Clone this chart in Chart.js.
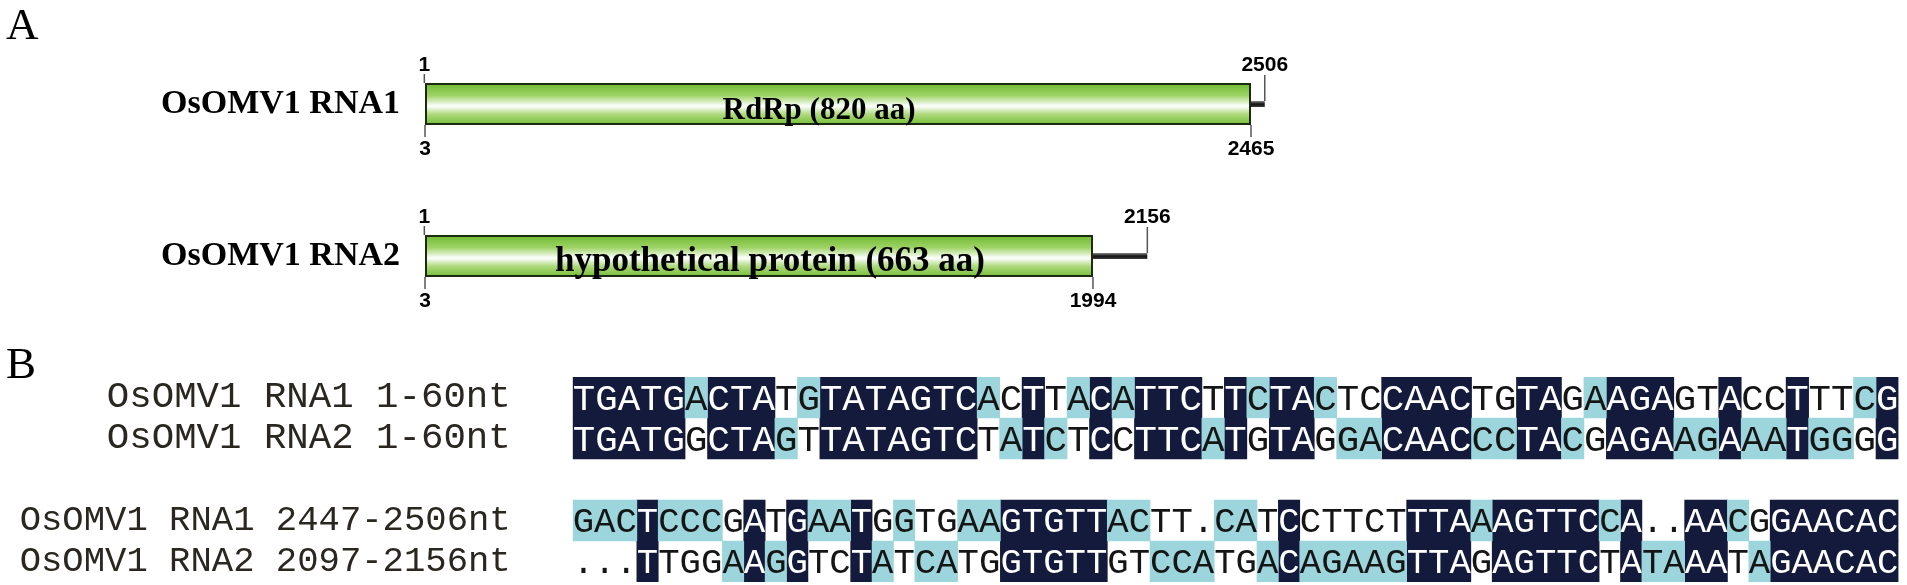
<!DOCTYPE html>
<html>
<head>
<meta charset="utf-8">
<script src="https://cdn.jsdelivr.net/npm/chart.js@4.4.1/dist/chart.umd.min.js"></script>
<style>
  html, body { margin: 0; padding: 0; background: #fff; width: 1907px; height: 585px; overflow: hidden; }
  canvas { position: absolute; left: 0; }
  #genomeChart { top: 0; }
  #alignChart { top: 340px; }
  .panel { position: absolute; left: 6px; font: 45px "Liberation Serif"; line-height: 1; color: #000; }
</style>
</head>
<body>
<canvas id="genomeChart" width="1907" height="345"></canvas>
<canvas id="alignChart" width="1907" height="245"></canvas>
<div class="panel" style="top:2px">A</div>
<div class="panel" style="top:341px">B</div>
<script>
// A: genome organisation
const genomes = ['OsOMV1 RNA1', 'OsOMV1 RNA2'];
const genomeStart = [1, 1];
const orfStart = [3, 3];
const orfEnd = [2465, 1994];
const genomeEnd = [2506, 2156];
const proteins = ['RdRp (820 aa)', 'hypothetical protein (663 aa)'];

// B: terminal sequence alignment
// shade codes: d = identical, c = similar (cyan), w = none
const headNames = ['OsOMV1 RNA1 1-60nt', 'OsOMV1 RNA2 1-60nt'];
const headSeqs = [
  'TGATGACTAT' + 'GTATAGTCAC' + 'TTACATTCTT' + 'CTACTCCAAC' + 'TGTAGAAGAG' + 'TACCTTTCG',
  'TGATGGCTAG' + 'TTATAGTCTA' + 'TCTCCTTCAT' + 'GTAGGACAAC' + 'CCTACGAGAA' + 'GAAATGGGG'
];
const headShades = [
  'dddddcdddw' + 'cdddddddcw' + 'dwcdcdddwd' + 'cddcwwdddd' + 'wwddwcdddw' + 'wdwwdwwcd',
  'dddddwdddc' + 'wdddddddwc' + 'dcwdwdddcd' + 'wddwccdddd' + 'ccddcwdddc' + 'cdccdccwd'
];
const tailNames = ['OsOMV1 RNA1 2447-2506nt', 'OsOMV1 RNA2 2097-2156nt'];
const tailSeqs = [
  'GACTCCCGAT' + 'GAATGGTGAA' + 'GTGTTACTT.' + 'CATCCTTCTT' + 'TAAAGTTCCA' + '..AACGGAACAC',
  '...TTGGAAG' + 'GTCTATCATG' + 'GTGTTGTCCA' + 'TGACAGAAGT' + 'TAGAGTTCTA' + 'TAAATAGAACAC'
];
const tailShades = [
  'cccdcccwdw' + 'dccdwcwwcc' + 'dddddccwww' + 'ccwdwwwwwd' + 'ddcdddddcd' + 'wwddcwdddddd',
  'wwwdwwwcdc' + 'dwwdcwccww' + 'dddddwwccc' + 'wwcdcccccd' + 'ddwdddddwd' + 'ccddwcdddddd'
];

const NAVY = '#131a3b';
const CYAN = '#9dd5dd';

// protein label styling (font size, horizontal nudge from ORF centre)
const proteinStyle = [{ size: 31, shift: -19 }, { size: 35, shift: 11 }];

// y axis: fixed width, and no extra vertical padding for the tall labels
function fixAxis(width) {
  return scale => {
    scale.width = width;
    scale.paddingTop = 0;
    scale.paddingBottom = 0;
  };
}

// ---------- panel A ----------
function bandGradient(c, half, stops, fallback) {
  const chart = c.chart;
  const y = chart.scales.y;
  if (!chart.chartArea || c.dataIndex === undefined || !y) return fallback;
  const cy = y.getPixelForValue(c.dataIndex);
  const g = chart.ctx.createLinearGradient(0, cy - half, 0, cy + half);
  stops.forEach(s => g.addColorStop(s[0], s[1]));
  return g;
}

const markPlugin = {
  id: 'marks',
  afterDatasetsDraw(chart) {
    const { ctx, scales: { x, y } } = chart;
    ctx.save();
    genomes.forEach((g, i) => {
      const cy = y.getPixelForValue(i);
      const top = cy - 21, bot = cy + 21;
      const st = proteinStyle[i];
      ctx.fillStyle = '#000';
      ctx.textAlign = 'center';
      ctx.textBaseline = 'alphabetic';
      ctx.font = 'bold ' + st.size + 'px "Liberation Serif"';
      const mid = (x.getPixelForValue(orfStart[i]) + x.getPixelForValue(orfEnd[i])) / 2;
      ctx.fillText(proteins[i], mid + st.shift, cy + 14.5);

      ctx.font = 'bold 21px "Liberation Sans"';
      ctx.strokeStyle = '#555';
      ctx.lineWidth = 1.5;
      const mark = (v, y0, y1, ty) => {
        const px = x.getPixelForValue(v);
        ctx.beginPath();
        ctx.moveTo(px, y0);
        ctx.lineTo(px, y1);
        ctx.stroke();
        ctx.fillText(String(v), px, ty);
      };
      mark(genomeStart[i], top, top - 9, top - 12);
      mark(genomeEnd[i], cy - 3, top - 8, top - 12);
      mark(orfStart[i], bot, bot + 12, bot + 30);
      mark(orfEnd[i], bot, bot + 12, bot + 30);
    });
    ctx.restore();
  }
};

new Chart(document.getElementById('genomeChart'), {
  type: 'bar',
  data: {
    labels: genomes,
    datasets: [
      {
        label: 'ORF',
        data: orfStart.map((s, i) => [s, orfEnd[i]]),
        grouped: false,
        maxBarThickness: 42,
        borderWidth: 2,
        borderColor: '#1c2a10',
        borderSkipped: false,
        backgroundColor: c => bandGradient(c, 21, [
          [0, '#6cba2e'], [0.3, '#9fd366'], [0.55, '#ffffff'],
          [0.74, '#b0da80'], [1, '#72bd32']
        ], '#8cc63f')
      },
      {
        label: 'UTR',
        data: orfEnd.map((e, i) => [e, genomeEnd[i]]),
        grouped: false,
        maxBarThickness: 6,
        borderWidth: 0,
        backgroundColor: c => bandGradient(c, 3, [
          [0, '#8a8a8a'], [0.5, '#111111'], [1, '#3a3a3a']
        ], '#222')
      }
    ]
  },
  options: {
    indexAxis: 'y',
    responsive: false,
    animation: false,
    layout: { padding: { top: 28, bottom: 13, left: 0, right: 141 } },
    scales: {
      x: { type: 'linear', min: 0, max: 4000, display: false },
      y: {
        type: 'category',
        afterFit: fixAxis(424),
        grid: { display: false, drawTicks: false },
        border: { display: false },
        ticks: {
          autoSkip: false,
          padding: 24,
          color: '#000',
          font: { family: 'Liberation Serif', weight: 'bold', size: 34 }
        }
      }
    },
    plugins: { legend: { display: false }, tooltip: { enabled: false } }
  },
  plugins: [markPlugin]
});

// ---------- panel B ----------
const rowLabels = [...headNames, '', ...tailNames];
const blocks = [
  { names: headNames, seqs: headSeqs, shades: headShades, axis: 'x1' },
  { names: tailNames, seqs: tailSeqs, shades: tailShades, axis: 'x2' }
];

// merge neighbouring cells of the same class into one floating bar
function cellRuns(block, code) {
  const out = [];
  block.shades.forEach((s, r) => {
    let i = 0;
    while (i < s.length) {
      if (s[i] !== code) { i++; continue; }
      let j = i;
      while (j < s.length && s[j] === code) j++;
      out.push({ x: [i + 0.5, j + 0.5], y: block.names[r] });
      i = j;
    }
  });
  return out;
}

const letterPlugin = {
  id: 'letters',
  afterDatasetsDraw(chart) {
    const { ctx, scales } = chart;
    const ys = scales.y;
    ctx.save();
    ctx.textAlign = 'center';
    ctx.textBaseline = 'alphabetic';
    blocks.forEach(b => {
      const xs = scales[b.axis];
      const colW = xs.getPixelForValue(1.5) - xs.getPixelForValue(0.5);
      const size = colW / 0.6;
      ctx.font = size + 'px "Liberation Mono"';
      b.seqs.forEach((seq, r) => {
        const cy = ys.getPixelForValue(rowLabels.indexOf(b.names[r]));
        for (let k = 0; k < seq.length; k++) {
          ctx.fillStyle = b.shades[r][k] === 'd' ? '#ffffff' : '#151515';
          ctx.fillText(seq[k], xs.getPixelForValue(k + 1), cy + size * 0.33);
        }
      });
    });
    ctx.restore();
  }
};

const cellDefaults = { grouped: false, barPercentage: 1, categoryPercentage: 1, borderWidth: 0, yAxisID: 'y' };

new Chart(document.getElementById('alignChart'), {
  type: 'bar',
  data: {
    labels: rowLabels,
    datasets: blocks.flatMap(b => [
      Object.assign({ label: 'similar', data: cellRuns(b, 'c'), backgroundColor: CYAN, xAxisID: b.axis }, cellDefaults),
      Object.assign({ label: 'identical', data: cellRuns(b, 'd'), backgroundColor: NAVY, xAxisID: b.axis }, cellDefaults)
    ])
  },
  options: {
    indexAxis: 'y',
    responsive: false,
    animation: false,
    layout: { padding: { top: 37, bottom: 3, left: 0, right: 8.5 } },
    scales: {
      x1: { type: 'linear', axis: 'x', min: 0.5, max: headSeqs[0].length + 0.5, display: false },
      x2: { type: 'linear', axis: 'x', min: 0.5, max: tailSeqs[0].length + 0.5, display: false },
      y: {
        type: 'category',
        afterFit: fixAxis(572.7),
        grid: { display: false, drawTicks: false },
        border: { display: false },
        ticks: {
          autoSkip: false,
          padding: 62,
          color: '#2a2620',
          font: c => ({ family: 'Liberation Mono', size: c.index < 2 ? 37.4 : 35.6 })
        }
      }
    },
    plugins: { legend: { display: false }, tooltip: { enabled: false } }
  },
  plugins: [letterPlugin]
});
</script>
</body>
</html>
